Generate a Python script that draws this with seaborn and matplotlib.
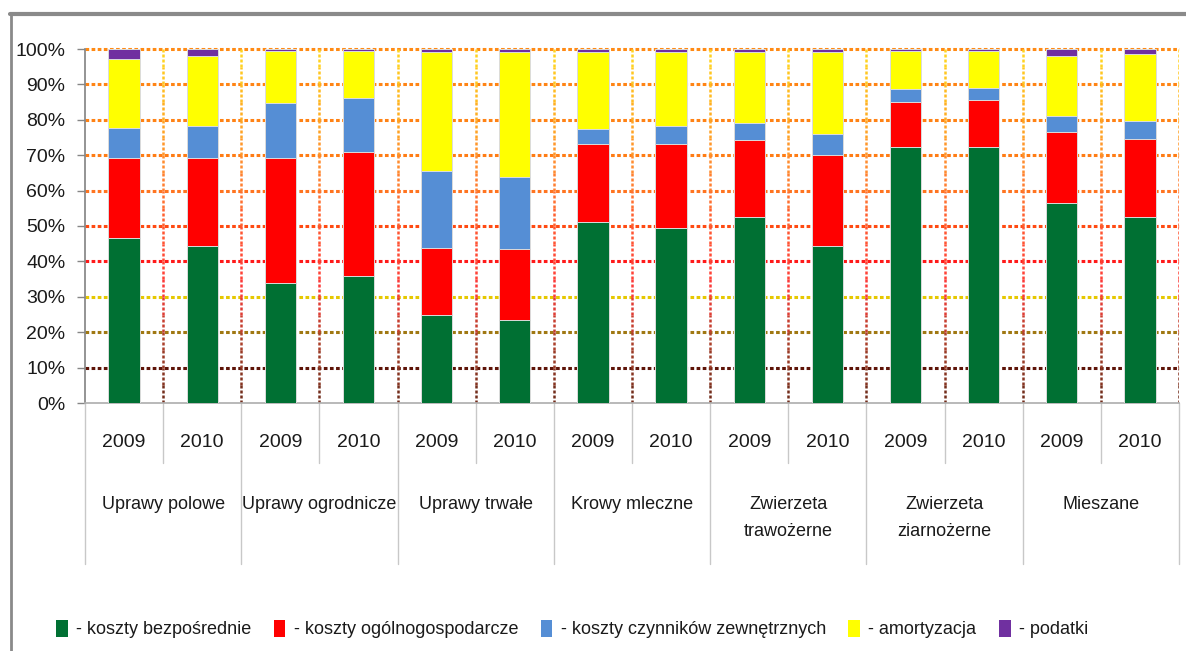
import numpy as np
import pandas as pd
import seaborn as sns
import matplotlib.pyplot as plt
import matplotlib.transforms as mtransforms
from matplotlib.colors import LinearSegmentedColormap
from matplotlib.lines import Line2D
from matplotlib.patches import Patch


# farm types and years
groups = ['Uprawy polowe', 'Uprawy ogrodnicze', 'Uprawy trwałe', 'Krowy mleczne',
          'Zwierzeta\ntrawożerne', 'Zwierzeta\nziarnożerne', 'Mieszane']
years = ['2009', '2010']

# cost structure shares (%), one value per bar (group x year)
bezposrednie = [46.7, 44.4, 33.9, 36.0, 24.9, 23.5, 51.2, 49.5, 52.5, 44.4, 72.2, 72.4, 56.5, 52.5]
ogolnogosp = [22.5, 24.8, 35.3, 34.9, 19.0, 20.1, 22.0, 23.7, 21.8, 25.7, 12.8, 13.2, 20.1, 22.1]
czynniki = [8.5, 9.0, 15.5, 15.3, 21.7, 20.3, 4.2, 5.0, 4.8, 5.9, 3.7, 3.4, 4.5, 5.1]
amortyzacja = [19.5, 19.8, 14.8, 13.3, 33.6, 35.3, 21.8, 21.0, 20.1, 23.2, 10.8, 10.5, 16.9, 18.9]
podatki = [2.8, 2.0, 0.5, 0.5, 0.8, 0.8, 0.8, 0.8, 0.8, 0.8, 0.5, 0.5, 2.0, 1.4]

series_names = ['- koszty bezpośrednie', '- koszty ogólnogospodarcze',
                '- koszty czynników zewnętrznych', '- amortyzacja', '- podatki']
colors = ['#007033', '#ff0000', '#558ed5', '#ffff00', '#7030a0']


sns.set_theme(style='white')
plt.rcParams['font.family'] = ['Liberation Sans', 'DejaVu Sans']
FS = 13
TXT = '#1a1a1a'

W, H = 1186, 651
fig = plt.figure(figsize=(W / 100, H / 100), dpi=100)
ax = fig.add_axes([85 / W, 1 - 403 / H, (1179 - 85) / W, 354 / H])

bar_ids = [f'{g}|{y}' for g in groups for y in years]
df = pd.DataFrame({'bar': bar_ids, 'b': bezposrednie, 'o': ogolnogosp,
                   'c': czynniki, 'a': amortyzacja, 'p': podatki})
cols = ['b', 'o', 'c', 'a', 'p']
cum = df[cols].cumsum(axis=1)

# stacked bars: draw cumulative totals from the top layer down
for k in reversed(range(len(cols))):
    sns.barplot(x=df['bar'], y=cum[cols[k]], order=bar_ids, color=colors[k],
                width=0.4, saturation=1, edgecolor='#dcdcdc', linewidth=0.7,
                ax=ax, zorder=3)

ax.set_xlim(-0.5, len(bar_ids) - 0.5)
ax.set_ylim(0, 100)

# coloured dotted horizontal grid
hcol = {10: '#5e1408', 20: '#a07812', 30: '#e6c800', 40: '#ff1a1a', 50: '#ff4a12',
        60: '#ff7420', 70: '#ff7c14', 80: '#ff8214', 90: '#ff8414', 100: '#ff8a14'}
for lev, c in hcol.items():
    ax.axhline(lev, color=c, ls=(0, (1.2, 0.8)), lw=2.2, zorder=1, clip_on=False)

# vertical dotted grid with a colour gradient bottom->top
vcmap = LinearSegmentedColormap.from_list(
    'vg', ['#6a2a1a', '#a8402a', '#ff3a3a', '#ff5a30', '#ff8a30', '#ffb020', '#ffd820'])
xs = np.arange(0.5, len(bar_ids), 1.0)
steps = 20
for k in range(steps):
    y0, y1 = 100 * k / steps, 100 * (k + 1) / steps
    ax.vlines(xs, y0, y1, colors=[vcmap((k + 0.5) / steps)], linestyles=(0, (1.2, 0.8)),
              lw=1.8, zorder=1)

# axes styling
for s in ['top', 'right']:
    ax.spines[s].set_visible(False)
ax.spines['left'].set_color('#868686')
ax.spines['bottom'].set_color('#b0b0b0')
ax.set_yticks(range(0, 101, 10))
ax.set_yticklabels([f'{v}%' for v in range(0, 101, 10)], fontsize=FS + 1, color=TXT)
ax.tick_params(axis='y', left=True, length=6, width=1, color='#868686', pad=8)
ax.set_xticks(range(len(bar_ids)))
ax.set_xticklabels(years * len(groups), fontsize=FS + 1, color=TXT)
ax.tick_params(axis='x', bottom=False, length=0, pad=22)
ax.set_xlabel('')
ax.set_ylabel('')

# multi-level category axis
trans = mtransforms.blended_transform_factory(ax.transData, ax.transAxes)
sep = '#c8c8c8'
for i in range(len(bar_ids) + 1):
    bottom = -0.455 if i % 2 == 0 else -0.17
    ax.plot([i - 0.5, i - 0.5], [0, bottom], color=sep, lw=1, transform=trans, clip_on=False)
for j, g in enumerate(groups):
    ax.text(2 * j + 0.5, -0.262, g, transform=trans, ha='center', va='top',
            fontsize=FS, color=TXT, linespacing=1.8)

# outer chart frame
fig.add_artist(Line2D([10 / W, 1], [1 - 14 / H] * 2, color='#8a8a8a', lw=3,
                      transform=fig.transFigure))
fig.add_artist(Line2D([11 / W] * 2, [0, 1 - 14 / H], color='#8a8a8a', lw=2,
                      transform=fig.transFigure))

handles = [Patch(facecolor=c, edgecolor='none') for c in colors]
fig.legend(handles, series_names, loc='center', bbox_to_anchor=(572 / W, 1 - 629 / H),
           ncol=5, frameon=False, fontsize=FS, handlelength=0.65, handleheight=1.1,
           handletextpad=0.45, columnspacing=1.25, labelcolor=TXT)

fig.savefig('out.png', dpi=100)
